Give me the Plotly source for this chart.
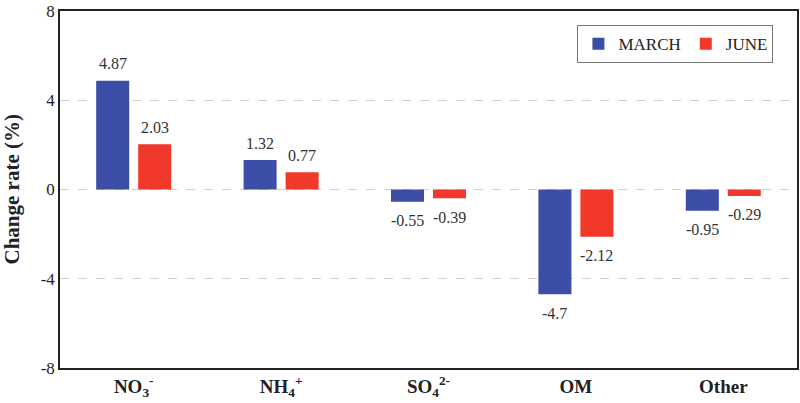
import plotly.graph_objects as go

categories = ["<b>NO<sub>3</sub><sup>-</sup></b>", "<b>NH<sub>4</sub><sup>+</sup></b>",
              "<b>SO<sub>4</sub><sup>2-</sup></b>", "<b>OM</b>", "<b>Other</b>"]
march = [4.87, 1.32, -0.55, -4.7, -0.95]
june = [2.03, 0.77, -0.39, -2.12, -0.29]
march_labels = ["4.87", "1.32", "-0.55", "-4.7", "-0.95"]
june_labels = ["2.03", "0.77", "-0.39", "-2.12", "-0.29"]
y_ticks = [-8, -4, 0, 4, 8]

FONT = "Liberation Serif"
BLUE = "#3B4DA5"
RED = "#F0382B"

fig = go.Figure()
fig.add_trace(go.Bar(name="MARCH", x=categories, y=march,
                     marker_color=BLUE, marker_line_width=0))
fig.add_trace(go.Bar(name="JUNE", x=categories, y=june,
                     marker_color=RED, marker_line_width=0))

# value labels, placed from the data values
for vals, labs, xs in ((march, march_labels, -21), (june, june_labels, 21)):
    for c, v, t in zip(categories, vals, labs):
        fig.add_annotation(x=c, y=v, text=t, showarrow=False,
                           xshift=xs, yshift=(17 if v > 0 else -19),
                           font=dict(family=FONT, size=16, color="#333333"))

# y-axis title
fig.add_annotation(xref="paper", yref="paper", x=0, y=0.5, xshift=-49,
                   xanchor="center", yanchor="middle",
                   text="<b>Change rate (%)</b>", textangle=-90, showarrow=False,
                   font=dict(family=FONT, size=21, color="#222222"))

fig.update_layout(
    width=800, height=403,
    margin=dict(l=60, r=3, t=11, b=35),
    paper_bgcolor="white", plot_bgcolor="white",
    barmode="group", bargap=0.43, bargroupgap=0.214,
    font=dict(family=FONT, size=16, color="#222222"),
    legend=dict(orientation="h", x=0.968, xanchor="right", y=0.96, yanchor="top",
                bordercolor="#777777", borderwidth=1, bgcolor="white",
                font=dict(family=FONT, size=17, color="#222222"),
                itemwidth=30, traceorder="normal"),
)
fig.update_xaxes(showline=True, linecolor="#222222", linewidth=1.5, mirror=True,
                 ticks="", tickfont=dict(family=FONT, size=19, color="#222222"),
                 showgrid=False, automargin=False)
fig.update_yaxes(range=[-8, 8], tickvals=y_ticks, ticktext=[str(v) for v in y_ticks],
                 showline=True, linecolor="#222222", linewidth=1.5, mirror=True,
                 showgrid=True, gridcolor="#D0D0D0", griddash="dash", gridwidth=1,
                 zeroline=False, ticks="", automargin=False,
                 tickfont=dict(family=FONT, size=17, color="#222222"))

fig.write_html("out.html", config={"displayModeBar": False},
               post_script="document.body.style.margin='0px';")
